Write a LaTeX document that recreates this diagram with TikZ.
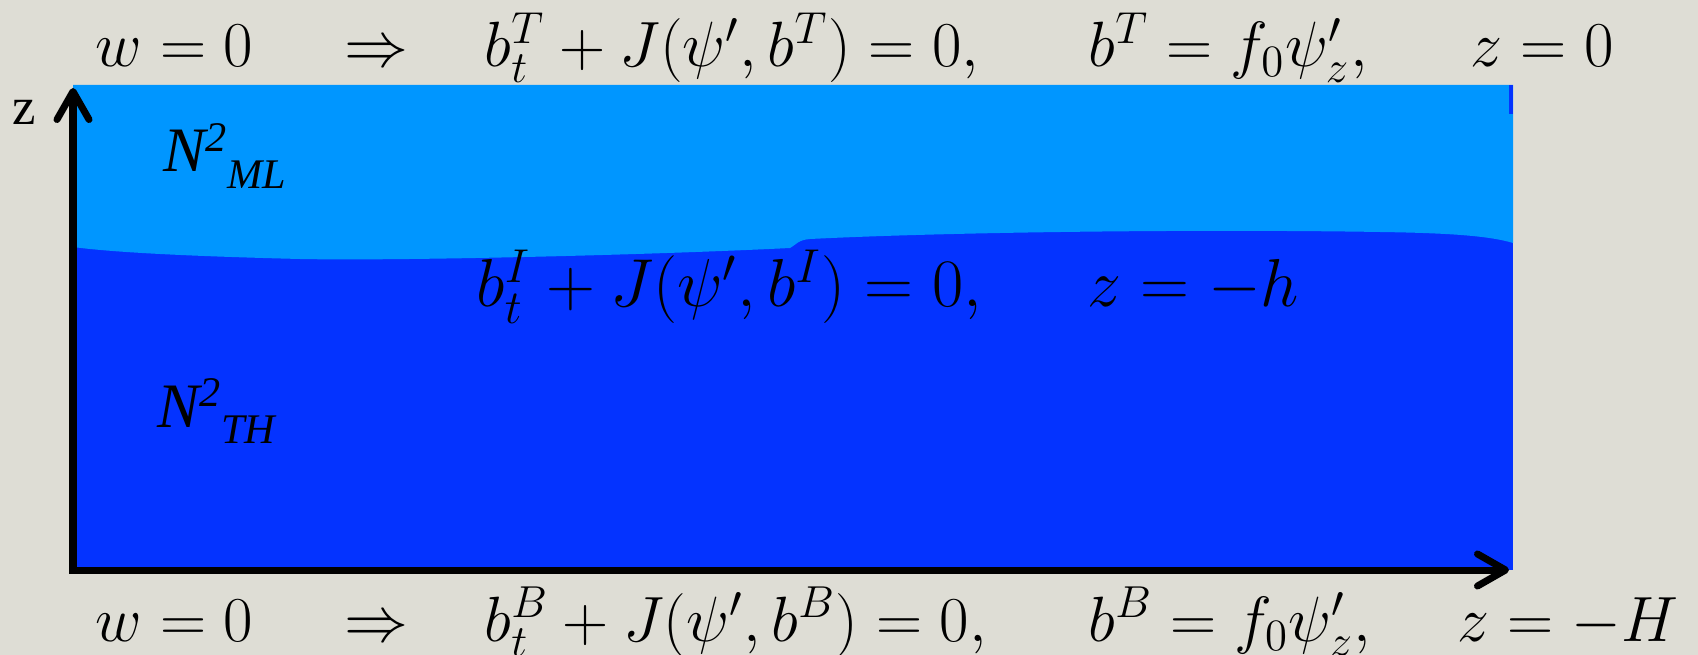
\RequirePackage{fix-cm}
\documentclass[tikz,border=0pt]{standalone}
\usepackage{fontspec}
\newfontfamily\timesfont{Liberation Serif}
\usetikzlibrary{arrows.meta}
\definecolor{linen}{RGB}{222,221,213}
\definecolor{mlblue}{RGB}{0,150,255}
\definecolor{thblue}{RGB}{4,51,255}
\newcommand{\Nsq}[1]{\itshape N\raisebox{0.2cm}{\fontsize{12}{14}\selectfont 2}\raisebox{-0.16cm}{\fontsize{12}{14}\selectfont #1}}

\begin{document}
\begin{tikzpicture}[x=0.01cm,y=-0.01cm,
  eq/.style={anchor=base west,inner sep=0pt,font=\fontsize{18.2}{22}\selectfont},
  lab/.style={anchor=base west,inner sep=0pt,font={\timesfont\fontsize{18}{22}\selectfont}},
  axis/.style={line width=0.07cm,{Straight Barb[length=0.28cm,width=0.32cm,round]}-{Straight Barb[length=0.28cm,width=0.32cm,round]}}]
\useasboundingbox (0,0) rectangle (1698,655);
\fill[linen] (0,0) rectangle (1698,655);
% thermocline below, mixed layer above
\fill[thblue] (73,85) rectangle (1513,570);
\fill[mlblue] (73,85) -- (1513,85) -- (1513,243)
  .. controls (1490,236) and (1450,233) .. (1380,232)
  .. controls (1200,229) and (950,232) .. (810,239)
  .. controls (798,240) and (797,244) .. (790,248)
  .. controls (650,255) and (400,261) .. (300,259)
  .. controls (180,256) and (110,252) .. (73,247) -- cycle;
\fill[thblue] (1509,85) rectangle (1513,114);
\coordinate (ztop) at (73,88); \coordinate (orig) at (73,570); \coordinate (xend) at (1509,570);
\draw[axis] (ztop) -- (orig) -- (xend);
\node[lab,font={\timesfont\fontsize{15}{18}\selectfont}] (zlab) at (12,125) {z};
\node[lab] (nml) at (163,172) {\Nsq{ML}};
\node[lab] (nth) at (157,427) {\Nsq{TH}};
% top boundary
\node[eq] (tw) at (95,67) {$w=0$};
\node[eq] (timp) at (344,67) {$\Rightarrow$};
\node[eq] (tev) at (484,67) {$b_t^T+J(\psi',b^T)=0,$};
\node[eq] (tbc) at (1088,67) {$b^T=f_0\psi'_z,$};
\node[eq] (tz) at (1470,67) {$z=0$};
% interface
\node[eq,font=\fontsize{19.3}{23}\selectfont] (iev) at (476,307) {$b_t^I+J(\psi',b^I)=0,$};
\node[eq,font=\fontsize{19.3}{23}\selectfont] (iz) at (1087,307) {$z=-h$};
% bottom boundary
\node[eq] (bw) at (95,641) {$w=0$};
\node[eq] (bimp) at (344,641) {$\Rightarrow$};
\node[eq] (bev) at (484,641) {$b_t^B+J(\psi',b^B)=0,$};
\node[eq] (bbc) at (1088,641) {$b^B=f_0\psi'_z,$};
\node[eq] (bz) at (1457,641) {$z=-H$};
\end{tikzpicture}
\end{document}
